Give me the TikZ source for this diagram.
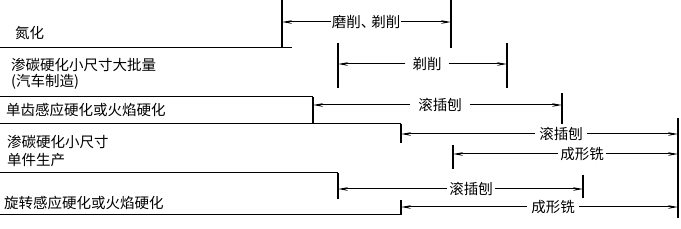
\documentclass[tikz,border=0pt]{standalone}
\usepackage{fontspec}
\newfontfamily\cjk{Noto Sans CJK SC}
\usetikzlibrary{arrows.meta}
\begin{document}
\begin{tikzpicture}[x=1pt,y=-1pt,
  every node/.style={font=\cjk\fontsize{14.5}{16}\selectfont, inner ysep=0pt},
  frame/.style={line width=1pt},
  tick/.style={line width=1.3pt},
  dim/.style={line width=1pt, -{Stealth[length=10pt,width=3.6pt]}},
  lab/.style={anchor=center},
  row/.style={anchor=west, align=left, inner xsep=0pt}]
\useasboundingbox (0,0) rectangle (681,229);
% row labels
\node[row] (r1) at (15,33) {氮化};
\node[row, font=\cjk\fontsize{14.5}{16}\selectfont] (r2) at (11,74) {渗碳硬化小尺寸大批量\\(汽车制造)};
\node[row] (r3) at (6,110) {单齿感应硬化或火焰硬化};
\node[row, font=\cjk\fontsize{14.5}{18}\selectfont] (r4) at (7,151) {渗碳硬化小尺寸\\单件生产};
\node[row] (r5) at (4,203) {旋转感应硬化或火焰硬化};
% frame lines
\draw[frame] (0,48) -- (292,48);
\draw[tick] (282,0) -- (282,48);
\draw[frame] (0,97) -- (313,97);
\draw[tick] (313,97) -- (313,124);
\draw[frame] (0,124) -- (401,124);
\draw[tick] (401,124) -- (401,143);
\draw[frame] (0,173) -- (338,173);
\draw[tick] (338,173) -- (338,199);
\draw[frame] (0,215) -- (401,215);
\draw[tick] (401,200) -- (401,215);
% end ticks
\draw[tick] (451,0) -- (451,48);
\draw[tick] (338,43) -- (338,88);
\draw[tick] (507,43) -- (507,88);
\draw[tick] (562,93) -- (562,124);
\draw[tick] (678,118) -- (678,218);
\draw[tick] (453,145) -- (453,169);
\draw[tick] (583,175) -- (583,198);
% coordinates of arrow ends
\coordinate (a1l) at (282,22); \coordinate (a1r) at (451,22);
\coordinate (a2l) at (338,64); \coordinate (a2r) at (507,64);
\coordinate (a3l) at (313,105); \coordinate (a3r) at (562,105);
\coordinate (a4l) at (401,134); \coordinate (a4r) at (678,134);
\coordinate (a5l) at (453,154); \coordinate (a5r) at (678,154);
\coordinate (a6l) at (338,189); \coordinate (a6r) at (583,189);
\coordinate (a7l) at (401,207); \coordinate (a7r) at (678,207);
% labels
\node[lab, inner xsep=0.5pt] (l1) at (366,22) {磨削、\kern-4pt剃削};
\node[lab, inner xsep=7pt] (l2) at (427,64) {剃削};
\node[lab, inner xsep=8pt] (l3) at (440,105) {滚插刨};
\node[lab, inner xsep=4pt] (l4) at (561,134) {滚插刨};
\node[lab, inner xsep=2pt] (l5) at (582,154) {成形铣};
\node[lab, inner xsep=2.5pt] (l6) at (471,189) {滚插刨};
\node[lab, inner xsep=4.5pt] (l7) at (553,207) {成形铣};
% arrows
\foreach \i in {1,...,7}{
  \draw[dim] (l\i.west) -- (a\i l);
  \draw[dim] (l\i.east) -- (a\i r);
}
\end{tikzpicture}
\end{document}
